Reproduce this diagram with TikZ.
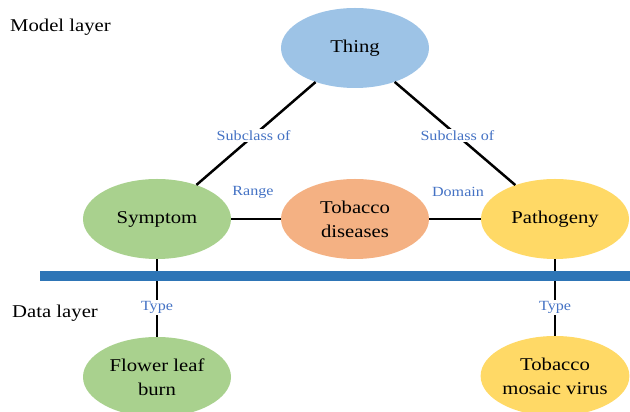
\documentclass[tikz,border=0pt]{standalone}
\usepackage{fontspec}
\setmainfont[FakeStretch=1.15]{Liberation Serif}
\usetikzlibrary{shapes.geometric}
\definecolor{thingblue}{HTML}{9DC3E6}
\definecolor{symgreen}{HTML}{A9D18E}
\definecolor{disorange}{HTML}{F4B183}
\definecolor{pathyellow}{HTML}{FFD966}
\definecolor{labblue}{HTML}{4472C4}
\definecolor{barblue}{HTML}{2E75B6}
\tikzset{
  conc/.style={ellipse, minimum width=148pt, minimum height=80pt, inner sep=0pt,
    align=center, font=\fontsize{18}{24}\selectfont},
  rel/.style={font=\fontsize{14}{16}\selectfont, text=labblue, inner sep=1.5pt},
  relbg/.style={rel, fill=white},
  conn/.style={line width=2.5pt, black},
  layer/.style={font=\fontsize{18}{22}\selectfont, anchor=west, inner sep=0pt}
}
\begin{document}
\begin{tikzpicture}[x=1pt,y=1pt]
\useasboundingbox (0,0) rectangle (630,412);
% layer titles
\node[layer] (ml) at (10,385) {Model layer};
\node[layer] (dl) at (12,99) {Data layer};
% concepts
\node[conc, fill=thingblue] (thing) at (355,364) {Thing};
\node[conc, fill=symgreen] (sym) at (157,193) {Symptom};
\node[conc, fill=disorange] (dis) at (355,193) {Tobacco\\diseases};
\node[conc, fill=pathyellow] (path) at (555,193) {Pathogeny};
\node[conc, fill=symgreen] (flb) at (157,35) {Flower leaf\\burn};
\node[conc, fill=pathyellow] (tmv) at (555,36) {Tobacco\\mosaic virus};
% connectors
\draw[conn] (thing) -- (sym) node[relbg, pos=0.52] (sc1) {Subclass of};
\draw[conn] (thing) -- (path) node[relbg, pos=0.52] (sc2) {Subclass of};
\draw[conn] (sym) -- (dis);
\draw[conn] (dis) -- (path);
\node[rel] (rng) at (253,220) {Range};
\node[rel] (dom) at (458,220) {Domain};
\draw[conn] (sym) -- (flb) node[relbg, pos=0.62] (t1) {Type};
\draw[conn] (path) -- (tmv) node[relbg, pos=0.63] (t2) {Type};
% layer separator
\fill[barblue] (40,131) rectangle (630,141);
\end{tikzpicture}
\end{document}
